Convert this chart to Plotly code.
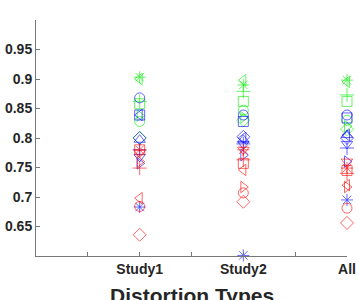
import plotly.graph_objects as go

categories = ["Study1", "Study2", "All"]
x_pos = [1, 2, 3]

# series: (color, marker symbol, values for Study1, Study2, All)
green_asterisk = [0.903, 0.890, 0.898]
green_tri_left = [0.900, 0.898, 0.895]
green_plus = [0.862, 0.879, 0.873]
green_square = [0.858, 0.862, 0.862]
green_circle = [0.828, 0.847, 0.830]
green_tri_right = [0.838, 0.835, 0.820]
green_diamond = [0.800, 0.830, 0.815]

blue_circle = [0.868, 0.839, 0.839]
blue_square = [0.839, 0.828, 0.834]
blue_tri_left = [0.839, 0.800, 0.805]
blue_diamond = [0.800, 0.802, 0.800]
blue_tri_up = [0.797, 0.797, 0.805]
blue_tri_down = [0.768, 0.790, 0.790]
blue_tri_right = [0.757, 0.771, 0.760]
blue_plus = [0.780, 0.790, 0.783]
blue_asterisk = [0.683, 0.601, 0.695]

red_asterisk = [0.780, 0.780, 0.749]
red_square = [0.780, 0.757, 0.745]
red_plus = [0.749, 0.763, 0.740]
red_tri_down = [0.775, 0.780, 0.760]
red_tri_left = [0.698, 0.746, 0.720]
red_tri_right = [0.760, 0.717, 0.717]
red_circle = [0.684, 0.707, 0.681]
red_diamond = [0.636, 0.692, 0.656]

series = [
    ("#00ee00", "asterisk-open", green_asterisk),
    ("#00ee00", "triangle-left-open", green_tri_left),
    ("#00ee00", "cross-thin-open", green_plus),
    ("#00ee00", "square-open", green_square),
    ("#00ee00", "circle-open", green_circle),
    ("#00ee00", "triangle-right-open", green_tri_right),
    ("#00ee00", "diamond-open", green_diamond),
    ("#0000ff", "circle-open", blue_circle),
    ("#0000ff", "square-open", blue_square),
    ("#0000ff", "triangle-left-open", blue_tri_left),
    ("#0000ff", "diamond-open", blue_diamond),
    ("#0000ff", "triangle-up-open", blue_tri_up),
    ("#0000ff", "triangle-down-open", blue_tri_down),
    ("#0000ff", "triangle-right-open", blue_tri_right),
    ("#0000ff", "cross-thin-open", blue_plus),
    ("#0000ff", "asterisk-open", blue_asterisk),
    ("#ff0000", "asterisk-open", red_asterisk),
    ("#ff0000", "square-open", red_square),
    ("#ff0000", "cross-thin-open", red_plus),
    ("#ff0000", "triangle-down-open", red_tri_down),
    ("#ff0000", "triangle-left-open", red_tri_left),
    ("#ff0000", "triangle-right-open", red_tri_right),
    ("#ff0000", "circle-open", red_circle),
    ("#ff0000", "diamond-open", red_diamond),
]

fig = go.Figure()
for color, sym, vals in series:
    fig.add_trace(go.Scatter(
        x=x_pos, y=vals, mode="markers",
        marker=dict(symbol=sym, size=10, color=color, line=dict(color=color, width=0.8)),
        opacity=0.75, showlegend=False, cliponaxis=False,
    ))

tick_font = dict(family="Liberation Sans", size=14, color="#262626")
fig.update_layout(
    width=359, height=300,
    margin=dict(l=36, r=12, t=20, b=44),
    paper_bgcolor="white", plot_bgcolor="white",
    font=dict(family="Liberation Sans"),
    xaxis=dict(
        range=[0, 3], tickvals=[0.5, 1, 1.5, 2, 2.5, 3],
        ticktext=["", "<b>Study1</b>", "", "<b>Study2</b>", "", "<b>All</b>"],
        ticks="inside", ticklen=4, tickcolor="#777", showline=True, linecolor="#777",
        linewidth=1, showgrid=False, zeroline=False, tickfont=tick_font, automargin=False,
    ),
    yaxis=dict(
        range=[0.6, 1.0], tickvals=[0.65, 0.7, 0.75, 0.8, 0.85, 0.9, 0.95],
        ticktext=["<b>0.65</b>", "<b>0.7</b>", "<b>0.75</b>", "<b>0.8</b>", "<b>0.85</b>", "<b>0.9</b>", "<b>0.95</b>"],
        ticks="inside", ticklen=4, tickcolor="#777", showline=True, linecolor="#777",
        linewidth=1, showgrid=False, zeroline=False, tickfont=tick_font, automargin=False,
    ),
    annotations=[dict(
        text="<b>Distortion Types</b>", xref="paper", yref="paper", x=0.5, y=-0.11,
        xanchor="center", yanchor="top", showarrow=False,
        font=dict(family="Liberation Sans", size=21, color="#262626"),
    )],
)

fig.write_html("out.html", config={"displayModeBar": False},
               post_script="document.body.style.margin='0';")
